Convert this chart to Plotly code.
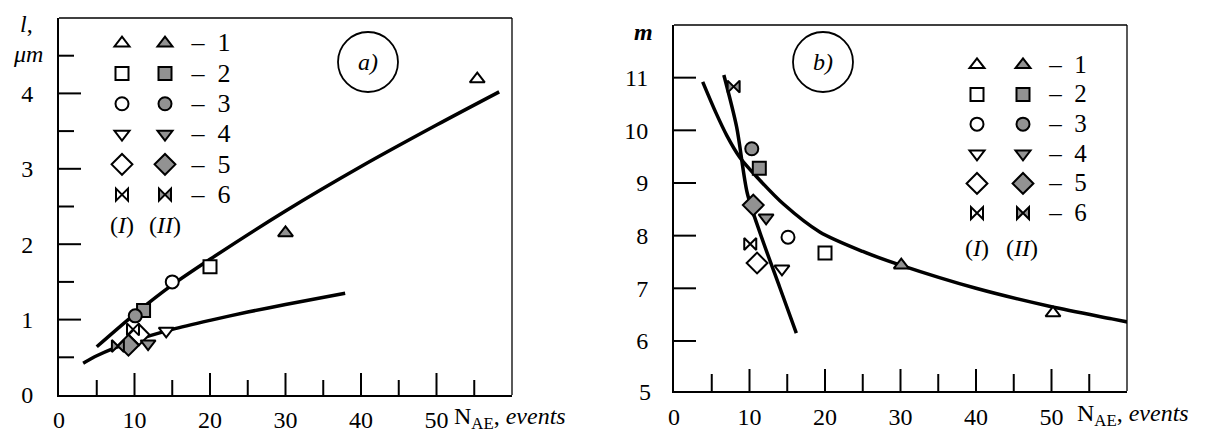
import plotly.graph_objects as go

# ---------------- data ----------------
series = ["1", "2", "3", "4", "5", "6"]
symbols = ["triangle-up", "square", "circle", "triangle-down", "diamond", "bowtie"]
sizes = [13, 13, 13, 13, 16, 12]

# panel a) : l (um) vs N_AE
a_I_x = [55.4, 20.0, 15.0, 14.2, 10.6, 9.8]
a_I_y = [4.19, 1.70, 1.50, 0.85, 0.80, 0.87]
a_II_x = [30.0, 11.2, 10.1, 11.8, 9.2, 7.8]
a_II_y = [2.15, 1.12, 1.05, 0.68, 0.66, 0.65]

a_fit1_x = [5, 10, 15, 20, 30, 40, 50, 58.3]
a_fit1_y = [0.64, 1.07, 1.46, 1.80, 2.44, 3.03, 3.58, 4.02]
a_fit2_x = [3.2, 5, 10, 15, 20, 25, 30, 37.9]
a_fit2_y = [0.42, 0.52, 0.72, 0.87, 0.99, 1.10, 1.20, 1.35]

# panel b) : m vs N_AE
b_I_x = [50.2, 20.0, 15.1, 14.3, 11.0, 10.1]
b_I_y = [6.53, 7.67, 7.97, 7.37, 7.48, 7.84]
b_II_x = [30.1, 11.3, 10.3, 12.2, 10.5, 7.9]
b_II_y = [7.44, 9.28, 9.65, 8.34, 8.58, 10.83]

b_fit1_x = [6.6, 8.3, 9.7, 11.4, 14.0, 16.2]
b_fit1_y = [11.05, 10.06, 8.81, 8.05, 7.02, 6.15]
b_fit2_x = [3.8, 5.5, 7.0, 8.7, 11.0, 14.5, 19.3, 25, 30, 40, 50, 58, 61.5]
b_fit2_y = [10.92, 10.35, 9.9, 9.49, 9.11, 8.6, 8.07, 7.7, 7.44, 7.0, 6.65, 6.42, 6.32]

x_ticks = [0, 10, 20, 30, 40, 50, 60]
x_ticktext = ["0", "10", "20", "30", "40", "50", ""]
x_minor = [5, 15, 25, 35, 45, 55]
a_y_ticks = [0, 1, 2, 3, 4]
a_y_minor = [0.5, 1.5, 2.5, 3.5, 4.5]
b_y_ticks = [6, 7, 8, 9, 10, 11]
a_x_range = [0, 60]
a_y_range = [0, 5]
b_x_range = [0, 60]
b_y_range = [5.05, 12]

# ---------------- style ----------------
OFF = 8            # page body margin
W, H = 1210 - OFF, 432 - OFF
FONT = "Liberation Serif"
GRAY = "#929292"
BLACK = "black"


def px(x):
    return (x - OFF) / W


def py(y):
    return 1 - (y - OFF) / H


fig = go.Figure()


def add_markers(xs, ys, filled, xa, ya, legend, fsize):
    for i, s in enumerate(series):
        name = ('<span style="font-size:%dpx">\u00a0\u2013\u00a0\u00a0%s</span>' % (fsize, s)) if filled else " "
        fig.add_trace(go.Scatter(
            x=[xs[i]], y=[ys[i]], mode="markers", xaxis=xa, yaxis=ya,
            name=name, legend=legend, showlegend=True,
            marker=dict(symbol=symbols[i], size=sizes[i],
                        color=GRAY if filled else "white",
                        line=dict(color=BLACK, width=2)),
            hoverinfo="skip"))


def add_line(xs, ys, xa, ya, clip=True):
    fig.add_trace(go.Scatter(x=xs, y=ys, mode="lines", xaxis=xa, yaxis=ya,
                             line=dict(color=BLACK, width=3.5, shape="spline", smoothing=0.8),
                             showlegend=False, hoverinfo="skip", cliponaxis=clip))


add_line(a_fit1_x, a_fit1_y, "x", "y")
add_line(a_fit2_x, a_fit2_y, "x", "y")
add_markers(a_I_x, a_I_y, False, "x", "y", "legend", 26)
add_markers(a_II_x, a_II_y, True, "x", "y", "legend2", 26)
add_line(b_fit1_x, b_fit1_y, "x2", "y2")
add_line(b_fit2_x, b_fit2_y, "x2", "y2", clip=False)
add_markers(b_I_x, b_I_y, False, "x2", "y2", "legend3", 25)
add_markers(b_II_x, b_II_y, True, "x2", "y2", "legend4", 25)

xa_dom = [px(59), px(512)]
xb_dom = [px(674), px(1127)]
ya_dom = [py(395), py(18)]
yb_dom = [py(391), py(25)]

common = dict(showgrid=False, zeroline=False, automargin=False,
              showline=True, linecolor=BLACK, linewidth=2, ticks="",
              tickfont=dict(family=FONT, size=24, color=BLACK), tickmode="array")

fig.update_layout(
    template="none",
    width=W, height=H, margin=dict(l=0, r=0, t=0, b=0),
    paper_bgcolor="white", plot_bgcolor="rgba(0,0,0,0)",
    font=dict(family=FONT, size=24, color=BLACK),
    xaxis=dict(domain=xa_dom, anchor="y", range=a_x_range, **common,
               tickvals=x_ticks, ticktext=x_ticktext, ticklabelstandoff=2),
    yaxis=dict(domain=ya_dom, anchor="x", range=a_y_range, **common,
               tickvals=a_y_ticks, ticklabelstandoff=19),
    xaxis2=dict(domain=xb_dom, anchor="y2", range=b_x_range, **common,
                tickvals=x_ticks, ticktext=x_ticktext, ticklabelstandoff=3),
    yaxis2=dict(domain=yb_dom, anchor="x2", range=b_y_range, **common,
                tickvals=b_y_ticks, ticklabelstandoff=19),
)


def legend_at(xl, yt, fsize):
    return dict(x=px(xl), y=py(yt), xanchor="left", yanchor="top",
                bgcolor="rgba(0,0,0,0)", borderwidth=0,
                font=dict(family=FONT, size=fsize, color=BLACK))


fig.update_layout(legend=legend_at(102, 23, 21), legend2=legend_at(145, 23, 21),
                  legend3=legend_at(957, 45, 20.5), legend4=legend_at(1003, 45, 20.5))

shapes = []


def xtick(v, xref, yref, base, length):
    shapes.append(dict(type="line", xref=xref, yref=yref, x0=v, x1=v,
                       ysizemode="pixel", yanchor=base, y0=0, y1=length,
                       line=dict(color=BLACK, width=2)))


def ytick(v, xref, yref, base, length):
    shapes.append(dict(type="line", xref=xref, yref=yref, y0=v, y1=v,
                       xsizemode="pixel", xanchor=base, x0=0, x1=length,
                       line=dict(color=BLACK, width=2)))


for v in x_ticks[1:-1]:
    xtick(v, "x", "y", a_y_range[0], 22)
    xtick(v, "x2", "y2", b_y_range[0], 22)
for v in x_minor:
    xtick(v, "x", "y", a_y_range[0], 15)
    xtick(v, "x2", "y2", b_y_range[0], 17)
for v in a_y_ticks[1:]:
    ytick(v, "x", "y", a_x_range[0], 22)
for v in a_y_minor:
    ytick(v, "x", "y", a_x_range[0], 15)
for v in b_y_ticks:
    ytick(v, "x2", "y2", b_x_range[0], 22)

# frame: thin top/right borders
for (x0, x1, y0, y1) in [(59, 512, 18, 395), (674, 1127, 25, 391)]:
    shapes.append(dict(type="line", xref="paper", yref="paper",
                       x0=px(x0), x1=px(x1), y0=py(y0), y1=py(y0),
                       line=dict(color=BLACK, width=1.3)))
    shapes.append(dict(type="line", xref="paper", yref="paper",
                       x0=px(x1), x1=px(x1), y0=py(y0), y1=py(y1),
                       line=dict(color=BLACK, width=1.3)))
# panel label circles
for (cx, cy) in [(368, 62), (823, 62)]:
    shapes.append(dict(type="circle", xref="paper", yref="paper",
                       x0=px(cx - 30), x1=px(cx + 30), y0=py(cy + 30), y1=py(cy - 30),
                       line=dict(color=BLACK, width=1.8)))
fig.update_layout(shapes=shapes)

ann = []


def text(x, y, t, size=24, xanchor="center"):
    ann.append(dict(x=px(x), y=py(y), xref="paper", yref="paper", text=t,
                    showarrow=False, xanchor=xanchor, yanchor="middle",
                    font=dict(family=FONT, size=size, color=BLACK)))


text(368, 62, "<i>a)</i>")
text(823, 62, "<i>b)</i>")
text(26, 24, "<i>l</i>,")
text(28, 54, "<i>\u03bcm</i>")
text(643, 32, "<b><i>m</i></b>")
text(645, 392, "5")
text(452, 418, "N<sub>AE</sub>, <i>events</i>", xanchor="left")
text(1075, 415, "N<sub>AE</sub>, <i>events</i>", xanchor="left")
text(122, 225, "(<i>I</i>)")
text(165, 225, "(<i>II</i>)")
text(977, 248, "(<i>I</i>)")
text(1022, 248, "(<i>II</i>)")
fig.update_layout(annotations=ann)

fig.write_html("out.html")
